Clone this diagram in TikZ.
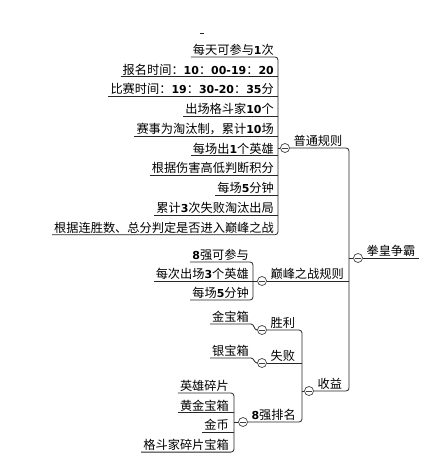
\documentclass[tikz,border=0pt]{standalone}
\usepackage{fontspec}
\setmainfont{Noto Sans CJK SC}
\newfontfamily\numfont{DejaVu Sans}[Scale=0.9]
\newcommand{\nb}[1]{{\numfont\bfseries #1}}

\begin{document}
\begin{tikzpicture}[
    x=1pt,y=-1pt,
    font=\fontsize{12.2}{13}\selectfont,
    leaf/.style={anchor=south east,inner xsep=2pt,inner ysep=1pt,text height=9pt,text depth=1.5pt},
    topic/.style={anchor=south west,inner xsep=3.5pt,inner ysep=1pt,text height=9pt,text depth=1.5pt},
    fold/.style={circle,draw=black!75,fill=white,minimum size=9pt,inner sep=0pt,line width=0.7pt,
      path picture={\draw[line width=0.8pt] ([xshift=-2.6pt]path picture bounding box.center) -- ([xshift=2.6pt]path picture bounding box.center);}},
    wire/.style={draw=black!85,line width=0.8pt}
  ]
    \path[fill=white] (0,0) rectangle (430,468);

    \coordinate (trunk) at (349,0);
    \coordinate (br1) at (278,0);
    \coordinate (br2) at (253,0);
    \coordinate (br3) at (302,0);
    \coordinate (br4) at (234,0);

    \node[fold] (c0) at (358,258) {};
    \node[topic] (root) at (c0.east) {拳皇争霸};

    \node[fold] (c1) at (285,148) {};
    \node[topic] (normal) at (c1.east) {普通规则};
    \node[fold] (c2) at (262,281) {};
    \node[topic] (peak) at (c2.east) {巅峰之战规则};
    \node[fold] (c3) at (309,391) {};
    \node[topic] (gain) at (c3.east) {收益};

    \foreach \t [count=\i] in {
        {每天可参与\nb{1}次},
        {报名时间：\nb{10}：\nb{00-19}：\nb{20}},
        {比赛时间：\nb{19}：\nb{30-20}：\nb{35}分},
        {出场格斗家\nb{10}个},
        {赛事为淘汰制，累计\nb{10}场},
        {每场出\nb{1}个英雄},
        {根据伤害高低判断积分},
        {每场\nb{5}分钟},
        {累计\nb{3}次失败淘汰出局},
        {根据连胜数、总分判定是否进入巅峰之战}}
      \node[leaf] (r\i) at (276,{57+19.75*(\i-1)}) {\t};

    \node[leaf] (p1) at (251,262) {\nb{8}强可参与};
    \node[leaf] (p2) at (251,281) {每次出场\nb{3}个英雄};
    \node[leaf] (p3) at (251,300) {每场\nb{5}分钟};

    \node[fold] (c4) at (262,330) {};
    \node[topic] (win) at (c4.east) {胜利};
    \node[fold] (c5) at (262,363) {};
    \node[topic] (lose) at (c5.east) {失败};
    \node[fold] (c6) at (243,422) {};
    \node[topic] (rank) at (c6.east) {\nb{8}强排名};

    \node[leaf] (gold) at (251,324) {金宝箱};
    \node[leaf] (silver) at (251,358) {银宝箱};

    \foreach \t [count=\i] in {英雄碎片,黄金宝箱,金币,格斗家碎片宝箱}
      \node[leaf] (k\i) at (231,{393+19.7*(\i-1)}) {\t};

    \draw[wire] (c0.east) -- (root.south east);
    \draw[wire] (c0.west) -- (c0.west -| trunk);
    \draw[wire,rounded corners=3pt] (c1.east) -- (c1.east -| trunk) -- (c3.east -| trunk) -- (c3.east);
    \draw[wire] (c2.east) -- (c2.east -| trunk);

    \draw[wire,rounded corners=3pt] (r1.south west) -- (r1.south west -| br1) -- (r10.south west -| br1) -- (r10.south west);
    \foreach \i in {2,...,9}
      \draw[wire] (r\i.south west) -- (r\i.south west -| br1);
    \draw[wire] (c1.west) -- (c1.west -| br1);

    \draw[wire,rounded corners=3pt] (p1.south west) -- (p1.south west -| br2) -- (p3.south west -| br2) -- (p3.south west);
    \draw[wire] (p2.south west) -- (c2.west);

    \draw[wire,rounded corners=3pt] (c4.east) -- (c4.east -| br3) -- (c6.east -| br3) -- (c6.east);
    \draw[wire] (c5.east) -- (c5.east -| br3);
    \draw[wire] (c3.west) -- (c3.west -| br3);

    \draw[wire] (gold.south west) -- (gold.south east) to[out=0,in=180] (c4.west);
    \draw[wire] (silver.south west) -- (silver.south east) to[out=0,in=180] (c5.west);

    \draw[wire,rounded corners=3pt] (k1.south west) -- (k1.south west -| br4) -- (k4.south west -| br4) -- (k4.south west);
    \foreach \i in {2,3}
      \draw[wire] (k\i.south west) -- (k\i.south west -| br4);
    \draw[wire] (c6.west) -- (c6.west -| br4);

    \draw[wire,line width=0.6pt] (200,33) -- (204,33);
  \end{tikzpicture}
\end{document}
